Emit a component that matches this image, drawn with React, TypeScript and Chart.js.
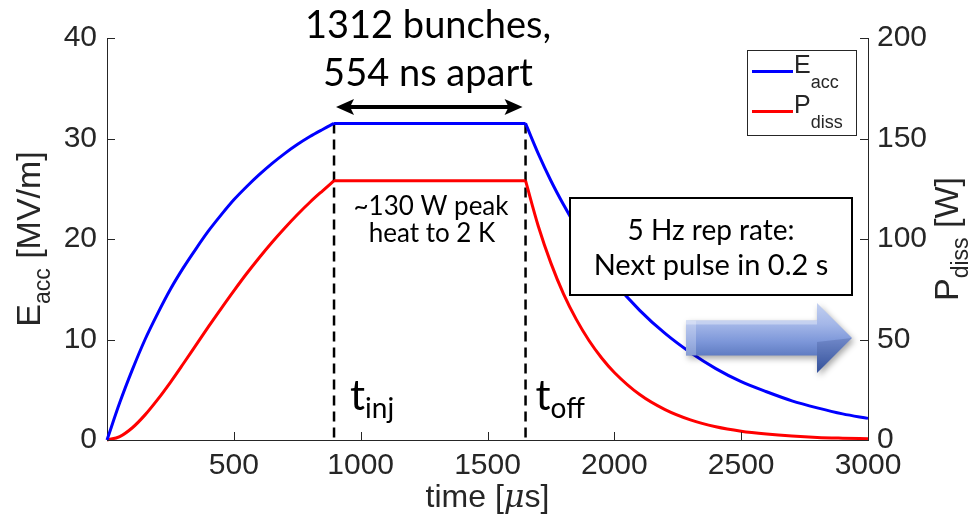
import React, { useEffect, useRef } from 'react';
import { Chart, registerables } from 'chart.js';

Chart.register(...registerables);

// RF pulse in the cavity: fill, flat-top during beam, then decay after RF off
const timeUs = [
  0, 50, 100, 150, 200, 250, 300, 350, 400, 450, 500, 550, 600, 650, 700, 750, 800, 850, 895,
  1650, 1700, 1750, 1800, 1850, 1900, 1950, 2000, 2100, 2200, 2300, 2400, 2500, 2600, 2700, 2800, 2900, 3000,
];
const eaccMVm = [
  0, 3.7, 7.0, 10.0, 12.6, 15.0, 17.1, 19.0, 20.8, 22.4, 23.9, 25.2, 26.4, 27.5, 28.5, 29.4, 30.2, 30.9, 31.5,
  31.5, 28.5, 25.8, 23.4, 21.2, 19.2, 17.4, 15.7, 12.9, 10.6, 8.7, 7.1, 5.8, 4.8, 3.9, 3.2, 2.6, 2.15,
];
const pdissW = [
  0, 1.7, 6.1, 12.5, 20.2, 28.7, 37.8, 47.1, 56.4, 65.4, 74.2, 82.7, 90.7, 98.3, 105.4, 112.1, 118.3, 124.0, 129,
  129, 106.5, 88.0, 72.6, 60.0, 49.5, 40.8, 33.6, 22.6, 15.1, 10.0, 6.6, 4.4, 3.0, 2.0, 1.3, 0.9, 0.6,
];

const injectionTimeUs = 895;
const rfOffTimeUs = 1650;

const timeTicks = [500, 1000, 1500, 2000, 2500, 3000];
const eaccTicks = [0, 10, 20, 30, 40];
const pdissTicks = [0, 50, 100, 150, 200];

const AXIS_COLOR = '#262626';
const SANS = '"Liberation Sans", Arial, Helvetica, sans-serif';
const CAL = 'Lato, "Open Sans", sans-serif';
const TICK_FONT = { family: SANS, size: 30 };

type Part = { text: string; font: string; dy?: number };

function drawParts(
  ctx: CanvasRenderingContext2D,
  parts: Part[],
  x: number,
  y: number,
  align: 'left' | 'center' | 'right'
) {
  const widths = parts.map((p) => {
    ctx.font = p.font;
    return ctx.measureText(p.text).width;
  });
  const total = widths.reduce((a, b) => a + b, 0);
  let cx = align === 'center' ? x - total / 2 : align === 'right' ? x - total : x;
  ctx.textAlign = 'left';
  ctx.textBaseline = 'alphabetic';
  parts.forEach((p, i) => {
    ctx.font = p.font;
    ctx.fillText(p.text, cx, y + (p.dy || 0));
    cx += widths[i];
  });
}

function drawVerticalTitle(ctx: CanvasRenderingContext2D, parts: Part[], x: number, yCenter: number) {
  ctx.save();
  ctx.translate(x, yCenter);
  ctx.rotate(-Math.PI / 2);
  ctx.fillStyle = AXIS_COLOR;
  drawParts(ctx, parts, 0, 0, 'center');
  ctx.restore();
}

function drawArrowHead(ctx: CanvasRenderingContext2D, tipX: number, y: number, dir: number) {
  ctx.beginPath();
  ctx.moveTo(tipX, y);
  ctx.lineTo(tipX - dir * 18, y - 8);
  ctx.lineTo(tipX - dir * 14, y);
  ctx.lineTo(tipX - dir * 18, y + 8);
  ctx.closePath();
  ctx.fill();
}

function drawBlockArrow(ctx: CanvasRenderingContext2D) {
  const x0 = 686;
  const x1 = 817;
  const x2 = 852;
  const yc = 338;
  const sh = 17.5;
  const hh = 35;
  const path = () => {
    ctx.beginPath();
    ctx.moveTo(x0, yc - sh);
    ctx.lineTo(x1, yc - sh);
    ctx.lineTo(x1, yc - hh);
    ctx.lineTo(x2, yc);
    ctx.lineTo(x1, yc + hh);
    ctx.lineTo(x1, yc + sh);
    ctx.lineTo(x0, yc + sh);
    ctx.closePath();
  };
  ctx.save();
  ctx.shadowColor = 'rgba(0,0,0,0.35)';
  ctx.shadowBlur = 6;
  ctx.shadowOffsetX = 2;
  ctx.shadowOffsetY = 3;
  const g = ctx.createLinearGradient(0, yc - hh, 0, yc + hh);
  g.addColorStop(0, '#c3d0f0');
  g.addColorStop(0.3, '#a4b7e8');
  g.addColorStop(0.55, '#7d97d9');
  g.addColorStop(1, '#3a5aa6');
  ctx.fillStyle = g;
  path();
  ctx.fill();
  ctx.restore();

  ctx.save();
  path();
  ctx.clip();
  ctx.fillStyle = 'rgba(255,255,255,0.25)';
  ctx.fillRect(x0, yc - sh, 10, sh * 2);
  ctx.fillStyle = 'rgba(255,255,255,0.35)';
  ctx.fillRect(x0, yc - sh, x1 - x0, 4);
  ctx.fillStyle = 'rgba(20,40,100,0.18)';
  ctx.beginPath();
  ctx.moveTo(x1, yc + 4);
  ctx.lineTo(x2, yc);
  ctx.lineTo(x1, yc + hh);
  ctx.closePath();
  ctx.fill();
  ctx.restore();
}

const pulseDecor = {
  id: 'pulseDecor',
  beforeDatasetsDraw(chart: any) {
    const { ctx, scales, chartArea } = chart;
    const x = scales.x;
    const yE = scales.yE;
    ctx.save();
    ctx.strokeStyle = '#000';
    ctx.lineWidth = 2.5;
    ctx.setLineDash([10, 6]);
    [injectionTimeUs, rfOffTimeUs].forEach((t) => {
      const px = x.getPixelForValue(t);
      ctx.beginPath();
      ctx.moveTo(px, yE.getPixelForValue(31.5));
      ctx.lineTo(px, chartArea.bottom);
      ctx.stroke();
    });
    ctx.restore();
  },
  afterDatasetsDraw(chart: any) {
    const { ctx, scales, chartArea } = chart;
    const x = scales.x;
    const yE = scales.yE;
    const yP = scales.yP;

    // inward tick marks
    ctx.save();
    ctx.strokeStyle = AXIS_COLOR;
    ctx.lineWidth = 1;
    const L = 8;
    timeTicks.forEach((v) => {
      const px = Math.round(x.getPixelForValue(v)) + 0.5;
      ctx.beginPath();
      ctx.moveTo(px, chartArea.bottom);
      ctx.lineTo(px, chartArea.bottom - L);
      ctx.stroke();
    });
    eaccTicks.forEach((v) => {
      const py = Math.round(yE.getPixelForValue(v)) + 0.5;
      ctx.beginPath();
      ctx.moveTo(chartArea.left, py);
      ctx.lineTo(chartArea.left + L, py);
      ctx.stroke();
    });
    pdissTicks.forEach((v) => {
      const py = Math.round(yP.getPixelForValue(v)) + 0.5;
      ctx.beginPath();
      ctx.moveTo(chartArea.right, py);
      ctx.lineTo(chartArea.right - L, py);
      ctx.stroke();
    });
    ctx.restore();

    // axis titles
    const midY = (chartArea.top + chartArea.bottom) / 2;
    drawVerticalTitle(
      ctx,
      [
        { text: 'E', font: `34px ${SANS}` },
        { text: 'acc', font: `23px ${SANS}`, dy: 10 },
        { text: ' [MV/m]', font: `34px ${SANS}` },
      ],
      40,
      midY
    );
    drawVerticalTitle(
      ctx,
      [
        { text: 'P', font: `34px ${SANS}` },
        { text: 'diss', font: `23px ${SANS}`, dy: 10 },
        { text: ' [W]', font: `34px ${SANS}` },
      ],
      958,
      midY
    );
    ctx.save();
    ctx.fillStyle = AXIS_COLOR;
    drawParts(
      ctx,
      [
        { text: 'time [', font: `32px ${SANS}` },
        { text: 'μ', font: `italic 32px "DejaVu Serif", serif` },
        { text: 's]', font: `32px ${SANS}` },
      ],
      (chartArea.left + chartArea.right) / 2,
      507,
      'center'
    );
    ctx.restore();

    // bunch train annotation
    ctx.save();
    ctx.fillStyle = '#000';
    drawParts(ctx, [{ text: '1312 bunches,', font: `38px ${CAL}` }], 428, 38, 'center');
    drawParts(ctx, [{ text: '554 ns apart', font: `38px ${CAL}` }], 428, 86, 'center');
    const ax0 = x.getPixelForValue(injectionTimeUs) + 2;
    const ax1 = x.getPixelForValue(rfOffTimeUs) - 3;
    const ay = 107;
    ctx.strokeStyle = '#000';
    ctx.lineWidth = 4;
    ctx.beginPath();
    ctx.moveTo(ax0 + 12, ay);
    ctx.lineTo(ax1 - 12, ay);
    ctx.stroke();
    drawArrowHead(ctx, ax0, ay, -1);
    drawArrowHead(ctx, ax1, ay, 1);

    drawParts(ctx, [{ text: '~130 W peak', font: `26px ${CAL}` }], 431, 215, 'center');
    drawParts(ctx, [{ text: 'heat to 2 K', font: `26px ${CAL}` }], 432, 242, 'center');

    const tinjX = x.getPixelForValue(injectionTimeUs);
    const toffX = x.getPixelForValue(rfOffTimeUs);
    drawParts(
      ctx,
      [
        { text: 't', font: `42px ${CAL}` },
        { text: 'inj', font: `28px ${CAL}`, dy: 8 },
      ],
      tinjX + 16,
      410,
      'left'
    );
    drawParts(
      ctx,
      [
        { text: 't', font: `42px ${CAL}` },
        { text: 'off', font: `28px ${CAL}`, dy: 8 },
      ],
      toffX + 10,
      410,
      'left'
    );

    // repetition-rate note
    ctx.fillStyle = '#fff';
    ctx.fillRect(570, 198, 282, 97);
    ctx.strokeStyle = '#000';
    ctx.lineWidth = 2;
    ctx.strokeRect(570, 198, 282, 97);
    ctx.fillStyle = '#000';
    drawParts(ctx, [{ text: '5 Hz rep rate:', font: `28px ${CAL}` }], 711, 240, 'center');
    drawParts(ctx, [{ text: 'Next pulse in 0.2 s', font: `29px ${CAL}` }], 711, 275, 'center');
    ctx.restore();

    drawBlockArrow(ctx);

    // legend
    ctx.save();
    ctx.fillStyle = '#fff';
    ctx.fillRect(747, 50, 109, 85);
    ctx.strokeStyle = AXIS_COLOR;
    ctx.lineWidth = 1;
    ctx.strokeRect(747.5, 50.5, 109, 85);
    ctx.lineWidth = 3;
    ctx.strokeStyle = '#0000ff';
    ctx.beginPath();
    ctx.moveTo(752, 71.5);
    ctx.lineTo(793, 71.5);
    ctx.stroke();
    ctx.strokeStyle = '#ff0000';
    ctx.beginPath();
    ctx.moveTo(752, 111.5);
    ctx.lineTo(793, 111.5);
    ctx.stroke();
    ctx.fillStyle = AXIS_COLOR;
    drawParts(
      ctx,
      [
        { text: 'E', font: `25px ${SANS}` },
        { text: 'acc', font: `18px ${SANS}`, dy: 15 },
      ],
      794,
      73,
      'left'
    );
    drawParts(
      ctx,
      [
        { text: 'P', font: `25px ${SANS}` },
        { text: 'diss', font: `18px ${SANS}`, dy: 15 },
      ],
      794,
      113,
      'left'
    );
    ctx.restore();
  },
};

// pulse phases as index ranges: fill, flat-top, decay (each drawn smooth, corners kept sharp)
const injIndex = timeUs.indexOf(injectionTimeUs);
const offIndex = timeUs.indexOf(rfOffTimeUs);
const phases: [number, number][] = [
  [0, injIndex],
  [injIndex, offIndex],
  [offIndex, timeUs.length - 1],
];

function phaseDatasets(values: number[], color: string, axis: string, name: string) {
  return phases.map(([a, b]) => ({
    label: name,
    data: timeUs.slice(a, b + 1).map((t, i) => ({ x: t, y: values[a + i] })),
    borderColor: color,
    borderWidth: 3,
    pointRadius: 0,
    cubicInterpolationMode: 'monotone' as const,
    yAxisID: axis,
    clip: 6,
  }));
}

export default function App() {
  const canvasRef = useRef<HTMLCanvasElement | null>(null);

  useEffect(() => {
    const canvas = canvasRef.current;
    if (!canvas) return;
    const chart = new Chart(canvas, {
      type: 'line',
      data: {
        datasets: [
          ...phaseDatasets(eaccMVm, '#0000ff', 'yE', 'Eacc'),
          ...phaseDatasets(pdissW, '#ff0000', 'yP', 'Pdiss'),
        ],
      },
      options: {
        animation: false,
        responsive: false,
        events: [],
        layout: { padding: { top: 38, left: 0, right: 0, bottom: 0 } },
        plugins: { legend: { display: false }, tooltip: { enabled: false } },
        scales: {
          x: {
            type: 'linear',
            min: 0,
            max: 3000,
            grid: { display: false, drawTicks: false },
            border: { display: true, color: AXIS_COLOR, width: 1 },
            ticks: {
              color: AXIS_COLOR,
              font: TICK_FONT,
              padding: 8,
              maxRotation: 0,
              autoSkip: false,
              callback: (v: any) => String(v),
            },
            afterBuildTicks: (s: any) => {
              s.ticks = timeTicks.map((v) => ({ value: v }));
            },
            afterFit: (s: any) => {
              s.height = 78;
            },
          },
          yE: {
            type: 'linear',
            position: 'left',
            min: 0,
            max: 40,
            grid: { display: false, drawTicks: false },
            border: { display: true, color: AXIS_COLOR, width: 1 },
            ticks: { color: AXIS_COLOR, font: TICK_FONT, padding: 10, callback: (v: any) => String(v) },
            afterBuildTicks: (s: any) => {
              s.ticks = eaccTicks.map((v) => ({ value: v }));
            },
            afterFit: (s: any) => {
              s.width = 107;
            },
          },
          yP: {
            type: 'linear',
            position: 'right',
            min: 0,
            max: 200,
            grid: { display: false, drawTicks: false },
            border: { display: true, color: AXIS_COLOR, width: 1 },
            ticks: { color: AXIS_COLOR, font: TICK_FONT, padding: 9, callback: (v: any) => String(v) },
            afterBuildTicks: (s: any) => {
              s.ticks = pdissTicks.map((v) => ({ value: v }));
            },
            afterFit: (s: any) => {
              s.width = 109;
            },
          },
        },
      },
      plugins: [pulseDecor],
    });
    return () => chart.destroy();
  }, []);

  return (
    <div style={{ position: 'fixed', left: 0, top: 0, width: 977, height: 518, background: '#fff' }}>
      <canvas ref={canvasRef} width={977} height={518} style={{ width: 977, height: 518 }} />
    </div>
  );
}
